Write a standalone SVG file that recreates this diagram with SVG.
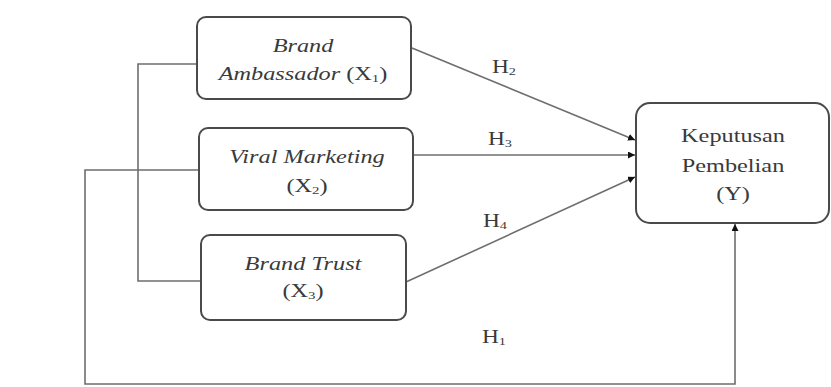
<svg xmlns="http://www.w3.org/2000/svg" width="831" height="387" viewBox="0 0 831 387">
<style>
.box{fill:#fff;stroke:#4a4a4a;stroke-width:2}
.ln{fill:none;stroke:#6e6e6e;stroke-width:1.6}
.t{font-family:"Liberation Serif","Times New Roman",serif;font-size:18px;fill:#3a3a3a;text-anchor:middle}
.i{font-style:italic}
.sub{font-size:11px;font-style:normal}
</style>
<defs>
<marker id="ah" viewBox="0 0 10 10" refX="10" refY="5" markerWidth="7" markerHeight="7" markerUnits="userSpaceOnUse" orient="auto">
<path d="M0,0 L10,5 L0,10 z" fill="#111"/>
</marker>
</defs>
<rect width="831" height="387" fill="#fff"/>
<g id="connectors">
<path class="ln" d="M197,64 H138 V281 H201"/>
<path class="ln" d="M199,170 H85 V384 H735 V224" marker-end="url(#ah)"/>
<line class="ln" x1="412" y1="48" x2="635" y2="140" marker-end="url(#ah)"/>
<line class="ln" x1="413" y1="155" x2="635" y2="155" marker-end="url(#ah)"/>
<line class="ln" x1="406" y1="282" x2="635" y2="177" marker-end="url(#ah)"/>
<g transform="translate(504,73) scale(1.3,1)"><text class="t" x="0" y="0">H<tspan class="sub" dy="2">2</tspan></text></g>
<g transform="translate(500,145) scale(1.3,1)"><text class="t" x="0" y="0">H<tspan class="sub" dy="2">3</tspan></text></g>
<g transform="translate(495,227) scale(1.3,1)"><text class="t" x="0" y="0">H<tspan class="sub" dy="2">4</tspan></text></g>
<g transform="translate(494,343) scale(1.3,1)"><text class="t" x="0" y="0">H<tspan class="sub" dy="2">1</tspan></text></g>
</g>
<g id="x1">
<rect class="box" x="197" y="17" width="214" height="82" rx="9"/>
<g transform="translate(303,52) scale(1.35,1)"><text class="t i" x="0" y="0">Brand</text></g>
<g transform="translate(303,80) scale(1.35,1)"><text class="t i" x="0" y="0">Ambassador <tspan font-style="normal">(X<tspan class="sub" dy="2">1</tspan><tspan dy="-2">)</tspan></tspan></text></g>
</g>
<g id="x2">
<rect class="box" x="199" y="128" width="214" height="82" rx="9"/>
<g transform="translate(307,163) scale(1.35,1)"><text class="t i" x="0" y="0">Viral Marketing</text></g>
<g transform="translate(307,192) scale(1.35,1)"><text class="t" x="0" y="0">(X<tspan class="sub" dy="2">2</tspan><tspan dy="-2">)</tspan></text></g>
</g>
<g id="x3">
<rect class="box" x="201" y="235" width="205" height="85" rx="9"/>
<g transform="translate(303,270) scale(1.35,1)"><text class="t i" x="0" y="0">Brand Trust</text></g>
<g transform="translate(303,297) scale(1.35,1)"><text class="t" x="0" y="0">(X<tspan class="sub" dy="2">3</tspan><tspan dy="-2">)</tspan></text></g>
</g>
<g id="y">
<rect class="box" x="636" y="103" width="193" height="120" rx="14"/>
<g transform="translate(733,142) scale(1.35,1)"><text class="t" x="0" y="0">Keputusan</text></g>
<g transform="translate(733,172) scale(1.35,1)"><text class="t" x="0" y="0">Pembelian</text></g>
<g transform="translate(733,200) scale(1.35,1)"><text class="t" x="0" y="0">(Y)</text></g>
</g>
</svg>
